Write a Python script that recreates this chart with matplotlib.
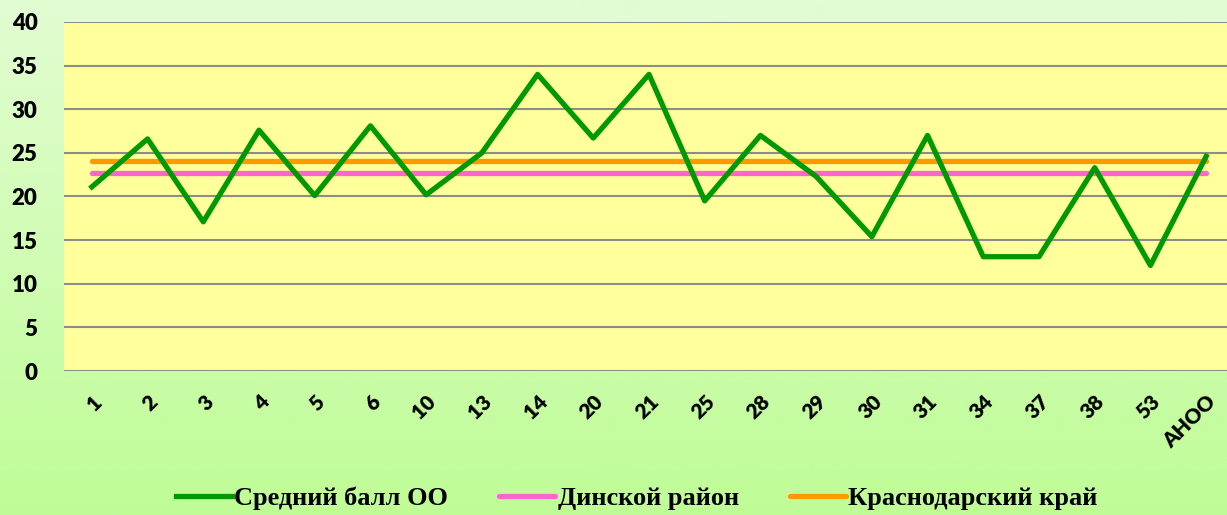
import numpy as np
import matplotlib.pyplot as plt
from matplotlib.colors import LinearSegmentedColormap

# данные
schools = ['1', '2', '3', '4', '5', '6', '10', '13', '14', '20', '21',
           '25', '28', '29', '30', '31', '34', '37', '38', '53', 'АНОО']
avg_oo = [21.1, 26.6, 17.1, 27.6, 20.1, 28.1, 20.2, 25.0, 34.0, 26.7, 34.0,
          19.5, 27.0, 22.3, 15.4, 27.0, 13.1, 13.1, 23.3, 12.1, 24.6]
dinskoy = [22.7] * len(schools)
krasnodar = [24.1] * len(schools)

fig = plt.figure(figsize=(12.27, 5.15), dpi=100)

# градиентный фон
bg = fig.add_axes([0, 0, 1, 1], zorder=-10)
cmap = LinearSegmentedColormap.from_list('bg', ['#e2fcd2', '#bffc96'])
bg.imshow(np.linspace(0, 1, 256).reshape(-1, 1), aspect='auto', cmap=cmap,
          extent=[0, 1, 0, 1])
bg.set_axis_off()

ax = fig.add_axes([64 / 1227, 1 - 371 / 515, 1170 / 1227, 349 / 515])
ax.set_facecolor('#ffff9c')
x = np.arange(len(schools))

ax.plot(x, avg_oo, color='#009900', lw=3.8, label='Средний балл ОО', zorder=4)
ax.plot(x, dinskoy, color='#ff66cc', lw=3.8, label='Динской район',
        solid_capstyle='round', zorder=3)
ax.plot(x, krasnodar, color='#ff9900', lw=3.8, label='Краснодарский край',
        solid_capstyle='round', zorder=3)

ax.set_ylim(0, 40)
ax.set_xlim(-0.5, len(schools) - 0.5)
ax.yaxis.grid(True, color='#8c8c8c', lw=1.5)
ax.set_axisbelow(True)
for s in ax.spines.values():
    s.set_visible(False)
ax.tick_params(length=0)
ax.tick_params(axis='y', pad=19)
ax.set_yticks(range(0, 41, 5))
ax.set_yticklabels([str(v) for v in range(0, 41, 5)], fontsize=16,
                   fontweight='heavy', family='Lato')
ax.set_xticks(x)
ax.set_xticklabels(schools, rotation=45, ha='right', rotation_mode='anchor',
                   fontsize=15, fontweight='heavy', family='Lato')
ax.tick_params(axis='x', pad=15)

leg = fig.legend(loc='center', bbox_to_anchor=(0.519, 0.032), ncol=3,
                 frameon=False, handlelength=2.1, columnspacing=1.95,
                 handletextpad=0.1,
                 prop={'family': 'Liberation Serif', 'weight': 'bold', 'size': 19})

fig.savefig('out.png', dpi=100)
